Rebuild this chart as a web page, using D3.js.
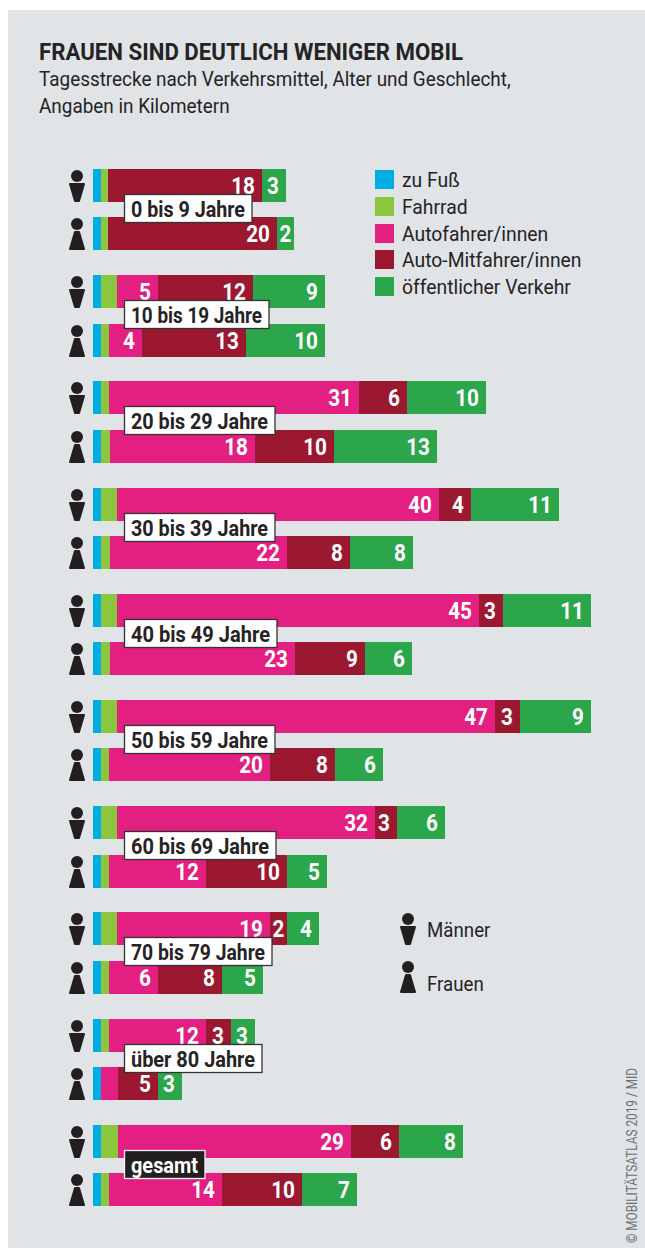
<!DOCTYPE html>
<html lang="de">
<head>
<meta charset="utf-8">
<title>Frauen sind deutlich weniger mobil</title>
<script src="https://cdn.jsdelivr.net/npm/d3@7"></script>
<style>
  html, body { margin: 0; padding: 0; background: #fff; }
  svg { display: block; }
  text { font-family: Roboto, sans-serif; }
</style>
</head>
<body>
<div id="chart"></div>
<script>
// Data (km per day)
const ageGroups = ["0 bis 9 Jahre", "10 bis 19 Jahre", "20 bis 29 Jahre", "30 bis 39 Jahre", "40 bis 49 Jahre",
    "50 bis 59 Jahre", "60 bis 69 Jahre", "70 bis 79 Jahre", "über 80 Jahre", "gesamt"];
const modeNames = ["zu Fuß", "Fahrrad", "Autofahrer/innen", "Auto-Mitfahrer/innen", "öffentlicher Verkehr"];
const modeColors = ["#00aee6", "#8cc63f", "#e31f82", "#9b1830", "#2ba64a"];

const menWalk = [1, 1, 1, 1, 1, 1, 1, 1, 1, 1];
const menBike = [0.875, 2, 1, 2, 2, 2, 2, 2, 1, 2.125];
const menCar = [0, 5.125, 31.25, 40.25, 45.25, 47.25, 32.25, 19.125, 12.125, 29.125];
const menRide = [19.25, 11.875, 6, 4, 3, 3.125, 2.75, 2.125, 3.125, 6];
const menPublic = [3, 9, 9.875, 11, 11, 8.875, 6, 4, 3, 8];

const womenWalk = [1, 1, 1, 1, 1, 1, 1, 1, 1, 1];
const womenBike = [0.875, 1, 1.125, 1.125, 1.125, 1, 1, 1, 0, 1];
const womenCar = [0, 4.125, 18.125, 22.125, 23.125, 20.125, 12.125, 6.125, 2.125, 14.125];
const womenRide = [21.125, 13, 9.875, 7.875, 8.75, 8.125, 10.125, 8, 5, 10];
const womenPublic = [2.125, 9.875, 12.875, 7.875, 5.875, 6, 5, 5.125, 3, 6.875];

// Printed numbers on the bars (null = no number)
const menCarLabels = [null, 5, 31, 40, 45, 47, 32, 19, 12, 29];
const menRideLabels = [18, 12, 6, 4, 3, 3, 3, 2, 3, 6];
const menPublicLabels = [3, 9, 10, 11, 11, 9, 6, 4, 3, 8];
const womenCarLabels = [null, 4, 18, 22, 23, 20, 12, 6, null, 14];
const womenRideLabels = [20, 13, 10, 8, 9, 8, 10, 8, 5, 10];
const womenPublicLabels = [2, 10, 13, 8, 6, 6, 5, 5, 3, 7];

const titleText = "FRAUEN SIND DEUTLICH WENIGER MOBIL";
const subtitleLines = ["Tagesstrecke nach Verkehrsmittel, Alter und Geschlecht,", "Angaben in Kilometern"];
const creditText = "© MOBILITÄTSATLAS 2019 / MID";

const width = 645;
const height = 1249;
const ink = "#262324";

// Roboto is wider than the original face, so squeeze the glyphs
function condense(sel, ratio) {
    sel.each(function () {
        d3.select(this)
            .attr("textLength", this.getComputedTextLength() * ratio)
            .attr("lengthAdjust", "spacingAndGlyphs");
    });
    return sel;
}

const svg = d3.select("#chart")
    .append("svg")
    .attr("width", width)
    .attr("height", height);

// Panel
svg.append("rect")
    .attr("x", 8)
    .attr("y", 10)
    .attr("width", width - 8)
    .attr("height", 1238)
    .attr("fill", "#e0e4e7");

// Heading
svg.append("text")
    .attr("x", 39)
    .attr("y", 60)
    .attr("fill", ink)
    .style("font-size", "24px")
    .style("font-weight", 700)
    .text(titleText)
    .attr("textLength", 424)
    .attr("lengthAdjust", "spacingAndGlyphs");

svg.selectAll(".subtitle")
    .data(subtitleLines)
    .enter()
    .append("text")
    .attr("class", "subtitle")
    .attr("x", 39)
    .attr("y", (d, i) => 86 + i * 27)
    .attr("fill", ink)
    .style("font-size", "21px")
    .text(d => d)
    .call(condense, 0.9);

// Scales
const x = d3.scaleLinear()
    .domain([0, 60])
    .range([93, 573]);

const y = d3.scaleBand()
    .domain(ageGroups)
    .range([169, 169 + 1062]);

const color = d3.scaleOrdinal()
    .domain(modeNames)
    .range(modeColors);

const barHeight = 33;
const womenOffset = 48.3;

// One row per bar
const rows = [];
ageGroups.forEach((age, i) => {
    rows.push({
        age: age, sex: "m", top: Math.round(y(age)),
        values: [menWalk[i], menBike[i], menCar[i], menRide[i], menPublic[i]],
        labels: [null, null, menCarLabels[i], menRideLabels[i], menPublicLabels[i]]
    });
    rows.push({
        age: age, sex: "f", top: Math.round(y(age) + womenOffset),
        values: [womenWalk[i], womenBike[i], womenCar[i], womenRide[i], womenPublic[i]],
        labels: [null, null, womenCarLabels[i], womenRideLabels[i], womenPublicLabels[i]]
    });
});

const stack = d3.stack()
    .keys(d3.range(modeNames.length))
    .value((d, key) => d.values[key]);

const layers = svg.selectAll(".layer")
    .data(stack(rows))
    .enter()
    .append("g")
    .attr("class", "layer")
    .attr("fill", d => modeColors[d.key]);

layers.selectAll("rect")
    .data(d => d)
    .enter()
    .append("rect")
    .attr("x", d => x(d[0]))
    .attr("y", d => d.data.top)
    .attr("width", d => x(d[1]) - x(d[0]))
    .attr("height", barHeight)
    .attr("shape-rendering", "crispEdges");

// Numbers on the bars
layers.selectAll(".bar-label")
    .data(d => d.map(s => ({ s: s, label: s.data.labels[d.key] })).filter(e => e.label !== null))
    .enter()
    .append("text")
    .attr("class", "bar-label")
    .attr("x", e => {
        const w = x(e.s[1]) - x(e.s[0]);
        return w < 20 ? x(e.s[0]) + w / 2 : x(e.s[1]) - 7;
    })
    .attr("y", e => e.s.data.top + 25)
    .attr("text-anchor", e => x(e.s[1]) - x(e.s[0]) < 20 ? "middle" : "end")
    .attr("fill", "#fff")
    .style("font-size", "23px")
    .style("font-weight", 700)
    .text(e => e.label)
    .call(condense, 0.9);

// Person icons
const personBody = {
    m: "M-7,15 L7,15 L2,32 L-2,32 Z",
    f: "M-2,15 L2,15 L7,32 L-7,32 Z"
};

function drawPerson(parent, sex, cx, top) {
    const g = parent.append("g")
        .attr("transform", `translate(${cx},${top})`)
        .attr("fill", "#231f20");
    g.append("circle")
        .attr("cx", 0)
        .attr("cy", 7)
        .attr("r", 6);
    g.append("path")
        .attr("d", personBody[sex])
        .attr("stroke", "#231f20")
        .attr("stroke-width", 2)
        .attr("stroke-linejoin", "round");
}

rows.forEach(r => drawPerson(svg, r.sex, 77, r.top));

// Age tags, on top of the bars; text widths follow the original's narrower figures
const tagTextWidths = [114, 131, 137, 137, 139, 137, 138, 134, 124, 67];

ageGroups.forEach((age, i) => {
    const dark = age === "gesamt";
    const top = Math.round(y(age)) + 25.5;
    const tag = svg.append("g");
    tag.append("rect")
        .attr("x", 124.5)
        .attr("y", top)
        .attr("width", tagTextWidths[i] + 13.5)
        .attr("height", 28)
        .attr("fill", dark ? "#231f20" : "#fff")
        .attr("stroke", dark ? "#f4f4f4" : "#333")
        .attr("stroke-width", 1.3);
    tag.append("text")
        .attr("x", 131)
        .attr("y", top + 22)
        .attr("fill", dark ? "#fff" : ink)
        .style("font-size", "22px")
        .style("font-weight", 700)
        .text(age)
        .attr("textLength", tagTextWidths[i])
        .attr("lengthAdjust", "spacingAndGlyphs");
});

// Legend, modes
const legend = svg.selectAll(".legend-item")
    .data(modeNames)
    .enter()
    .append("g")
    .attr("class", "legend-item")
    .attr("transform", (d, i) => `translate(375,${Math.round(170 + i * 26.75)})`);

legend.append("rect")
    .attr("width", 19)
    .attr("height", 19)
    .attr("fill", d => color(d));

legend.append("text")
    .attr("x", 27)
    .attr("y", 17)
    .attr("fill", ink)
    .style("font-size", "21px")
    .text(d => d)
    .call(condense, 0.92);

// Legend, sexes
drawPerson(svg, "m", 408, 912);
drawPerson(svg, "f", 408, 960);

svg.append("text")
    .attr("x", 427)
    .attr("y", 937)
    .attr("fill", ink)
    .style("font-size", "21px")
    .text("Männer")
    .call(condense, 0.89);

svg.append("text")
    .attr("x", 427)
    .attr("y", 991)
    .attr("fill", ink)
    .style("font-size", "21px")
    .text("Frauen")
    .call(condense, 0.89);

// Credit
svg.append("text")
    .attr("transform", "translate(637,1243) rotate(-90)")
    .attr("fill", "#6d6e71")
    .style("font-size", "14px")
    .text(creditText)
    .attr("textLength", 175)
    .attr("lengthAdjust", "spacingAndGlyphs");
</script>
</body>
</html>
